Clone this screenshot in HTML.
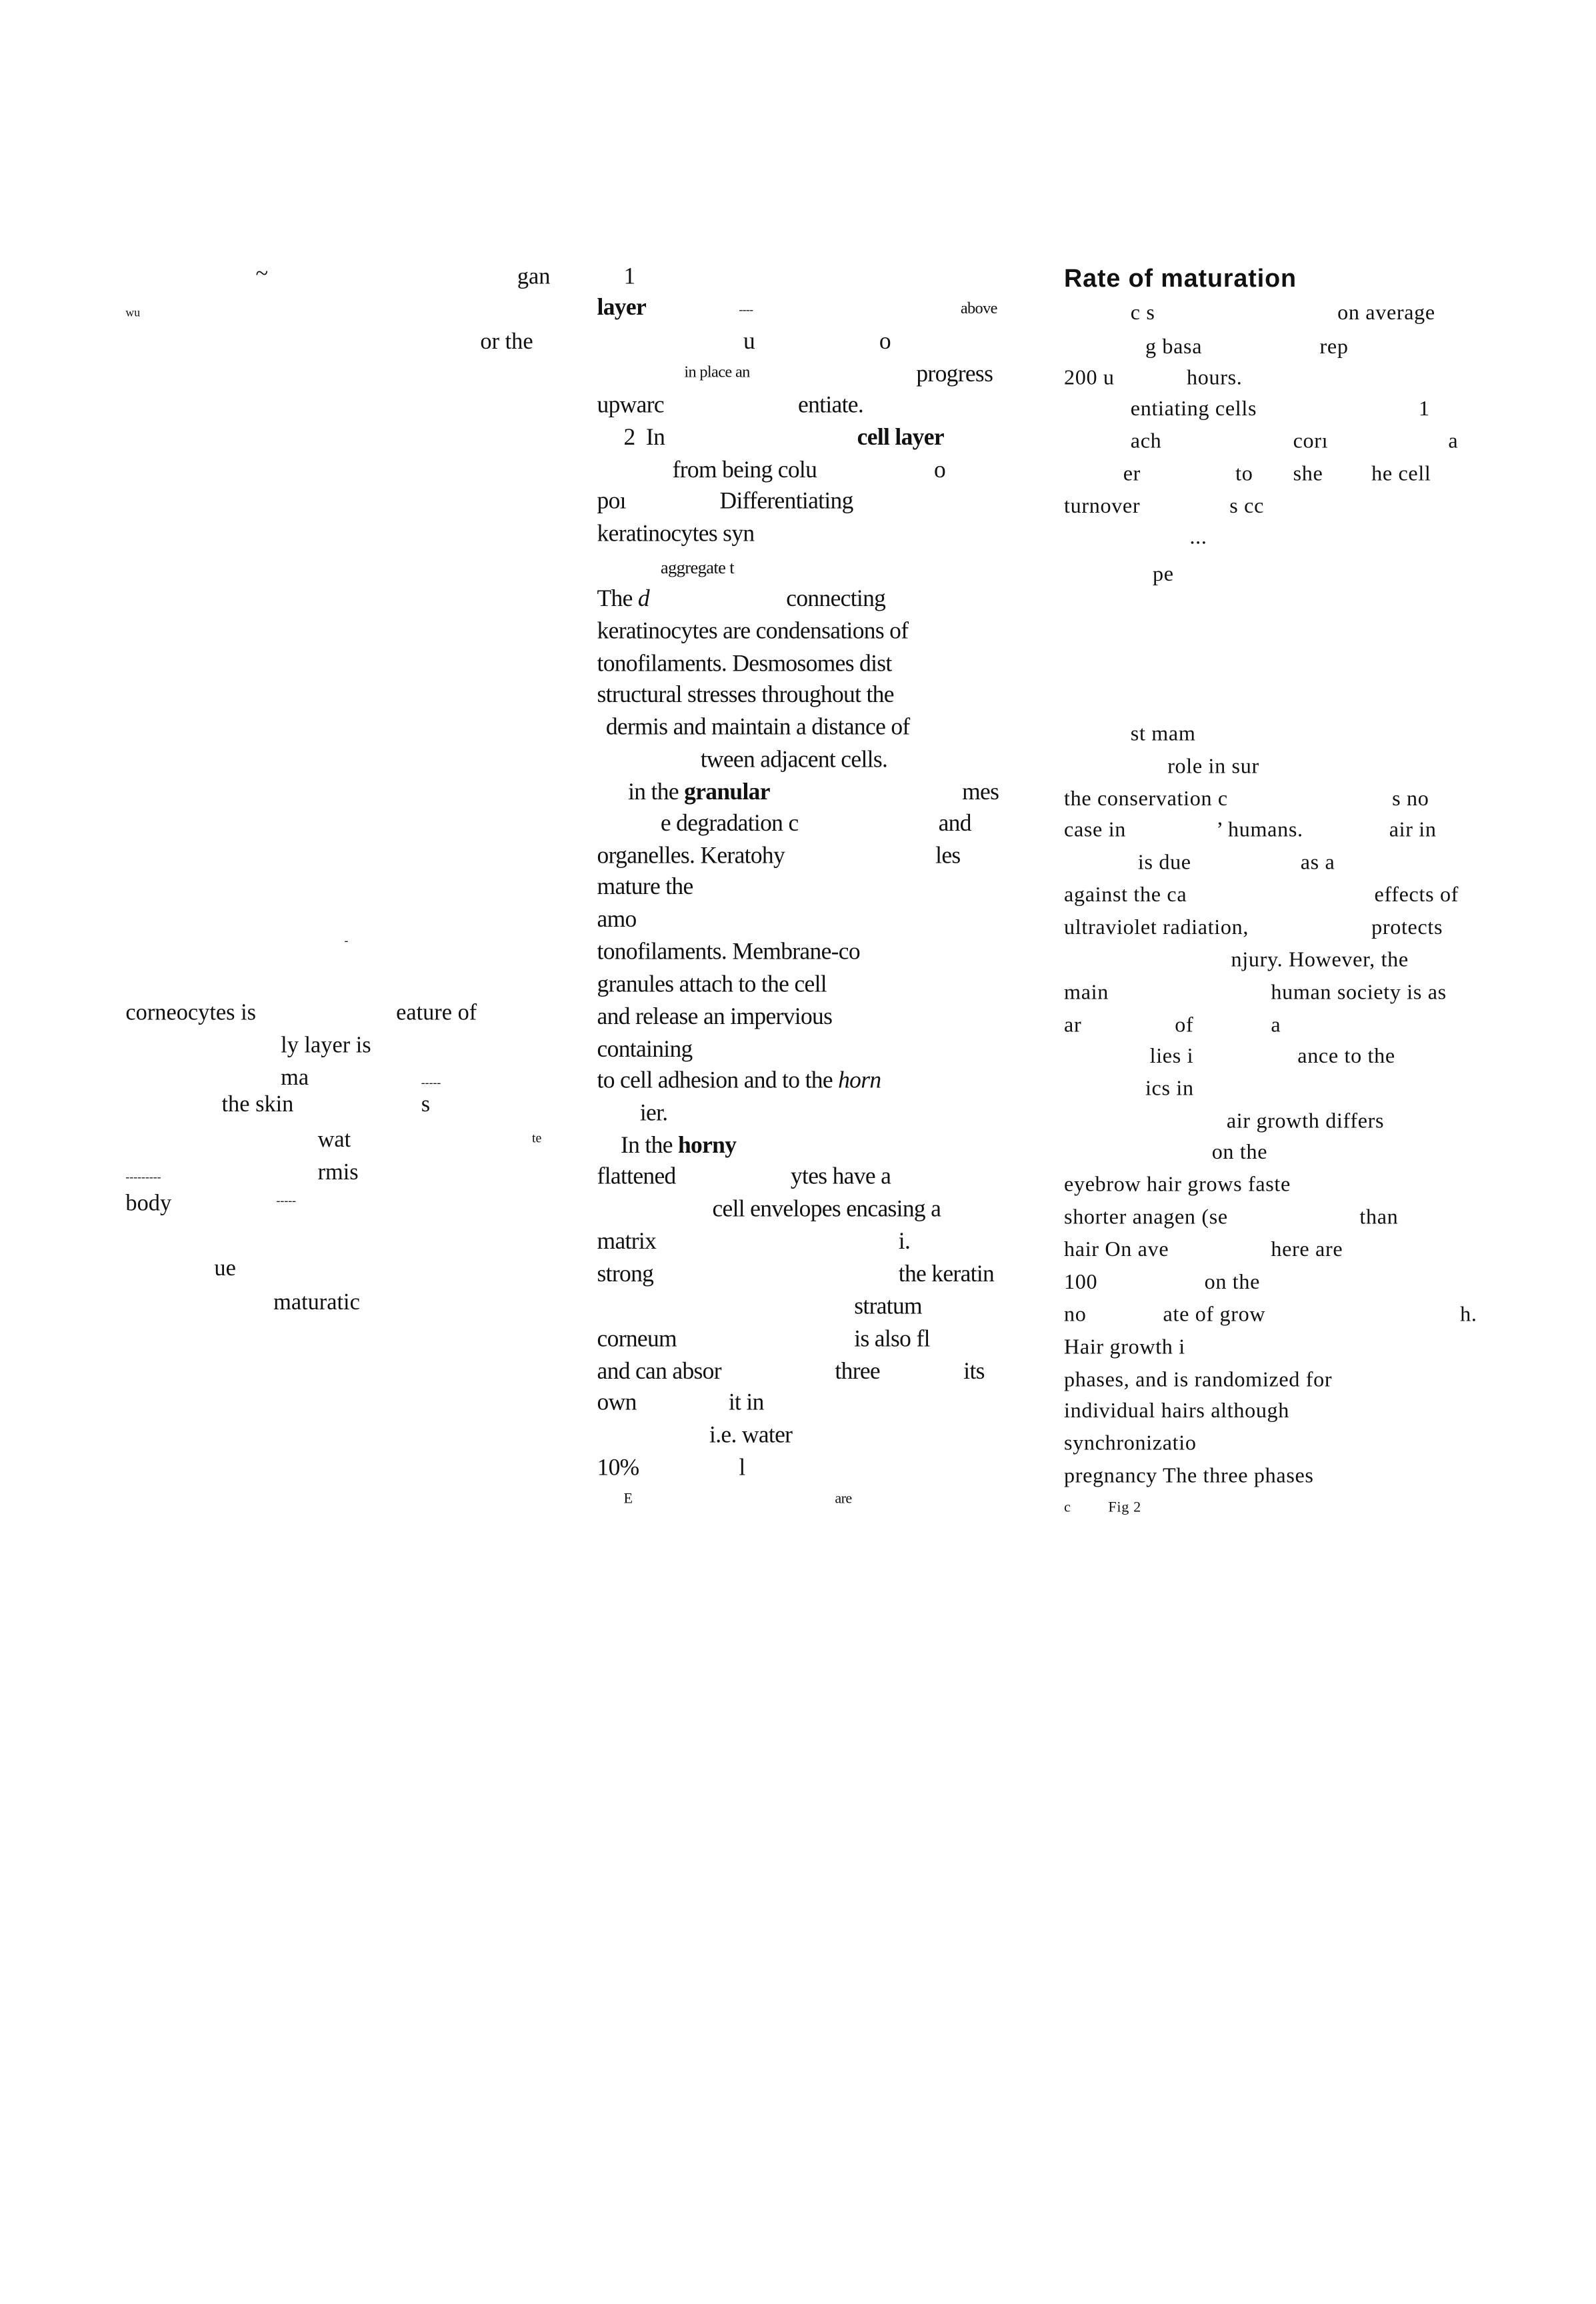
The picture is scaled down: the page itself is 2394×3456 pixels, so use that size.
<!DOCTYPE html>
<html><head><meta charset="utf-8"><style>
html,body{margin:0;padding:0;background:#fff;}
#w{position:relative;width:2394px;height:3456px;overflow:hidden;background:#fff;}
#s{position:absolute;left:0;top:0;width:1080px;height:1560px;transform:scale(2.2167);transform-origin:0 0;}
#s span{position:absolute;white-space:nowrap;line-height:20px;color:#111;font-family:"Liberation Serif",serif;}
.a span{font-size:15.5px;}
.b span{font-size:16px;letter-spacing:-0.3px;}
.c span{font-size:14.5px;letter-spacing:0.3px;}
b{font-weight:bold;}
.h{font-family:"Liberation Sans",sans-serif!important;font-weight:900;font-size:17px!important;letter-spacing:0.4px!important;}
</style></head><body><div id="w"><div id="s">
<div class="a">
<span style="left:173px;top:176px">~</span><span style="left:350px;top:178px">gan</span>
<span style="left:85px;top:202px;font-size:8px">wu</span>
<span style="left:325px;top:222px">or the</span>
<span style="left:233px;top:627px;font-size:8px">-</span>
<span style="left:85px;top:676px">corneocytes is</span><span style="left:268px;top:676px">eature of</span>
<span style="left:190px;top:698px">ly layer is</span>
<span style="left:190px;top:720px">ma</span><span style="left:285px;top:723px;font-size:8px">-----</span>
<span style="left:150px;top:738px">the skin</span><span style="left:285px;top:738px">s</span>
<span style="left:215px;top:762px">wat</span><span style="left:360px;top:760px;font-size:9px">te</span>
<span style="left:215px;top:784px">rmis</span><span style="left:85px;top:787px;font-size:8px">---------</span>
<span style="left:85px;top:805px">body</span><span style="left:187px;top:803px;font-size:8px">-----</span>
<span style="left:145px;top:849px">ue</span>
<span style="left:185px;top:872px">maturatic</span>
</div>
<div class="b">
<span style="left:422px;top:178px">1</span>
<span style="left:404px;top:199px"><b>layer</b></span><span style="left:500px;top:200px;font-size:8px">----</span><span style="left:650px;top:199px;font-size:11px">above</span>
<span style="left:503px;top:222px">u</span><span style="left:595px;top:222px">o</span>
<span style="left:463px;top:242px;font-size:11px">in place an</span><span style="left:620px;top:244px">progress</span>
<span style="left:404px;top:265px">upwarc</span><span style="left:540px;top:265px">entiate.</span>
<span style="left:422px;top:287px">2&nbsp;&nbsp;In</span><span style="left:580px;top:287px"><b>cell layer</b></span>
<span style="left:455px;top:309px">from being colu</span><span style="left:632px;top:309px">o</span>
<span style="left:404px;top:330px">poı</span><span style="left:487px;top:330px">Differentiating</span>
<span style="left:404px;top:352px">keratinocytes syn</span>
<span style="left:447px;top:374px;font-size:12px">aggregate t</span>
<span style="left:404px;top:396px">The <i>d</i></span><span style="left:532px;top:396px">connecting</span>
<span style="left:404px;top:418px">keratinocytes are condensations of</span>
<span style="left:404px;top:440px">tonofilaments. Desmosomes dist</span>
<span style="left:404px;top:461px">structural stresses throughout the</span>
<span style="left:410px;top:483px">dermis and maintain a distance of</span>
<span style="left:474px;top:505px">tween adjacent cells.</span>
<span style="left:425px;top:527px">in the <b>granular</b></span><span style="left:651px;top:527px">mes</span>
<span style="left:447px;top:548px">e degradation c</span><span style="left:635px;top:548px">and</span>
<span style="left:404px;top:570px">organelles. Keratohy</span><span style="left:633px;top:570px">les</span>
<span style="left:404px;top:591px">mature the</span>
<span style="left:404px;top:613px">amo</span>
<span style="left:404px;top:635px">tonofilaments. Membrane-co</span>
<span style="left:404px;top:657px">granules attach to the cell</span>
<span style="left:404px;top:679px">and release an impervious</span>
<span style="left:404px;top:701px">containing</span>
<span style="left:404px;top:722px">to cell adhesion and to the <i>horn</i></span>
<span style="left:433px;top:744px">ier.</span>
<span style="left:420px;top:766px">In the <b>horny</b></span>
<span style="left:404px;top:787px">flattened</span><span style="left:535px;top:787px">ytes have a</span>
<span style="left:482px;top:809px">cell envelopes encasing a</span>
<span style="left:404px;top:831px">matrix</span><span style="left:608px;top:831px">i.</span>
<span style="left:404px;top:853px">strong</span><span style="left:608px;top:853px">the keratin</span>
<span style="left:578px;top:875px">stratum</span>
<span style="left:404px;top:897px">corneum</span><span style="left:578px;top:897px">is also fl</span>
<span style="left:404px;top:919px">and can absor</span><span style="left:565px;top:919px">three</span><span style="left:652px;top:919px">its</span>
<span style="left:404px;top:940px">own</span><span style="left:493px;top:940px">it in</span>
<span style="left:480px;top:962px">i.e. water</span>
<span style="left:404px;top:984px">10%</span><span style="left:500px;top:984px">l</span>
<span style="left:422px;top:1005px;font-size:10px">E</span><span style="left:565px;top:1005px;font-size:10px">are</span>
</div>
<div class="c">
<span class="h" style="left:720px;top:179px">Rate of maturation</span>
<span style="left:765px;top:202px">c s</span><span style="left:905px;top:202px">on average</span>
<span style="left:775px;top:225px">g basa</span><span style="left:893px;top:225px">rep</span>
<span style="left:720px;top:246px">200 u</span><span style="left:803px;top:246px">hours.</span>
<span style="left:765px;top:267px">entiating cells</span><span style="left:960px;top:267px">1</span>
<span style="left:765px;top:289px">ach</span><span style="left:875px;top:289px">corı</span><span style="left:980px;top:289px">a</span>
<span style="left:760px;top:311px">er</span><span style="left:836px;top:311px">to</span><span style="left:875px;top:311px">she</span><span style="left:928px;top:311px">he cell</span>
<span style="left:720px;top:333px">turnover</span><span style="left:832px;top:333px">s cc</span>
<span style="left:805px;top:354px">...</span>
<span style="left:780px;top:379px">pe</span>
<span style="left:765px;top:487px">st mam</span>
<span style="left:790px;top:509px">role in sur</span>
<span style="left:720px;top:531px">the conservation c</span><span style="left:942px;top:531px">s no</span>
<span style="left:720px;top:552px">case in</span><span style="left:823px;top:552px">’ humans.</span><span style="left:940px;top:552px">air in</span>
<span style="left:770px;top:574px">is due</span><span style="left:880px;top:574px">as a</span>
<span style="left:720px;top:596px">against the ca</span><span style="left:930px;top:596px">effects of</span>
<span style="left:720px;top:618px">ultraviolet radiation,</span><span style="left:928px;top:618px">protects</span>
<span style="left:833px;top:640px">njury. However, the</span>
<span style="left:720px;top:662px">main</span><span style="left:860px;top:662px">human society is as</span>
<span style="left:720px;top:684px">ar</span><span style="left:795px;top:684px">of</span><span style="left:860px;top:684px">a</span>
<span style="left:778px;top:705px">lies i</span><span style="left:878px;top:705px">ance to the</span>
<span style="left:775px;top:727px">ics in</span>
<span style="left:830px;top:749px">air growth differs</span>
<span style="left:820px;top:770px">on the</span>
<span style="left:720px;top:792px">eyebrow hair grows faste</span>
<span style="left:720px;top:814px">shorter anagen (se</span><span style="left:920px;top:814px">than</span>
<span style="left:720px;top:836px">hair On ave</span><span style="left:860px;top:836px">here are</span>
<span style="left:720px;top:858px">100</span><span style="left:815px;top:858px">on the</span>
<span style="left:720px;top:880px">no</span><span style="left:787px;top:880px">ate of grow</span><span style="left:988px;top:880px">h.</span>
<span style="left:720px;top:902px">Hair growth i</span>
<span style="left:720px;top:924px">phases, and is randomized for</span>
<span style="left:720px;top:945px">individual hairs although</span>
<span style="left:720px;top:967px">synchronizatio</span>
<span style="left:720px;top:989px">pregnancy The three phases</span>
<span style="left:720px;top:1011px;font-size:10px">c&nbsp;&nbsp;&nbsp;&nbsp;&nbsp;&nbsp;&nbsp;&nbsp;&nbsp;Fig 2</span>
</div>
</div></div></body></html>
